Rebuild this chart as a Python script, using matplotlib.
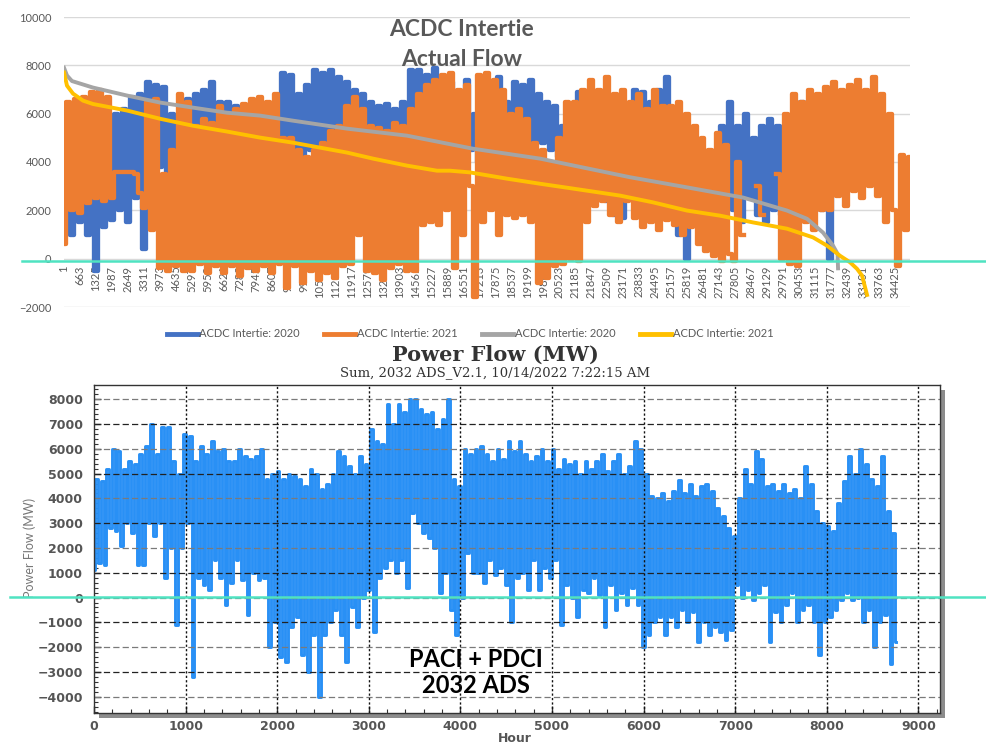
import numpy as np
import matplotlib
matplotlib.use("Agg")
import matplotlib.pyplot as plt
from matplotlib.lines import Line2D
from matplotlib.patches import Rectangle
from matplotlib.ticker import MultipleLocator

plt.rcParams['font.family'] = ['Lato', 'DejaVu Sans']

nan = np.nan

# ---- top chart: ACDC Intertie actual flow, 15-min samples (MW) ----
n_samples = 35040
cat_step = 662  # excel shows every 662nd category label

flow_2021 = [
    600, 6500, 2000, 6600, 1900, 6700, 2300, 6900,
    2500, 7000, 2400, 6700, 2500, 3600, 3600, 3600,
    3600, 3600, 3500, 2700, 2100, 6500, 1200, 6600,
    -400, 3500, -500, 4500, -300, 6800, -500, 6500,
    -500, 5500, -200, 5800, -600, 5600, -300, 6300,
    -600, 6000, -300, 6200, -700, 6400, -400, 6600,
    -500, 6700, -300, 6500, -600, 6800, -200, 5000,
    -1200, 5000, -300, 4500, -1000, 4200, -500, 4500,
    -900, 4800, -600, 5300, -800, 5500, -300, 6300,
    -200, 6700, 1000, 6200, -500, 5500, -600, 5400,
    -900, 5300, -400, 5600, -200, 5500, -500, 6200,
    -500, 6800, 1400, 7200, 1500, 7400, 1400, 7600,
    2000, 7700, -400, 7000, 1000, 7200, 3000, -1600,
    7600, 1500, 7700, 2000, 7400, 1000, 7000, 1800,
    6000, 1700, 6200, 1800, 5800, 1500, 4800, -1000,
    4500, -800, 4000, -300, 5000, -200, 6500, 0,
    6500, -100, 7000, 1500, 7400, 2200, 7000, 2400,
    7500, 1800, 6800, 1500, 7000, 2400, 6500, 1700,
    6800, 1300, 6200, 1500, 7000, 1200, 6300, 1600,
    6300, 1400, 6500, 1000, 6000, 1300, 5500, 600,
    5000, 300, 4500, 100, 5200, -100, 4700, 200,
    -100, 4000, 1000, nan, nan, nan, 3000, 1800,
    nan, nan, nan, 3500, 0, 6000, -200, 6800,
    -300, 6500, 1500, 7000, 1200, 6800, 2000, 7100,
    2000, 7300, 2600, 7000, 2200, 7200, 2800, 7400,
    2500, 7000, 3000, 7500, 2600, 6800, 1500, 6000,
    2000, -300, 4300, 1200, 4200,
]

flow_2020 = [
    1800, 5500, 1000, 6000, 1500, 5800, 1000, 4200,
    -500, 2800, 1300, 2500, 1600, 6000, 2000, 6200,
    1500, 6700, 2500, 6800, 400, 7300, 4000, 7200,
    3800, 7100, 3500, 6000, 3000, 5500, 4000, 6600,
    4500, 6800, 4300, 7000, 4600, 7300, 4800, 6500,
    5000, 6500, 5100, 6300, 5500, 1000, 5600, 6000,
    5500, 6000, 4800, 5900, 5000, 5800, 4500, 7700,
    5000, 7600, 3200, 6800, 3000, 7200, 4500, 7800,
    4600, 7700, 3800, 7800, 4500, 7500, 5000, 7300,
    5000, 7000, 4500, 6800, 3400, 6500, 4800, 6300,
    4800, 6400, 4500, 6200, 5000, 6500, 4500, 7800,
    5500, 7800, 5200, 7600, 5000, 7900, 5800, 7500,
    5500, 7300, 5000, 6500, 5200, 7400, 4500, 6000,
    4000, 6800, 3500, 7300, 4200, 7500, 3000, 6500,
    5500, 7300, 5400, 7200, 5000, 7400, 4800, 6800,
    4800, 6500, 4500, 6300, 4200, 5500, 4000, 6000,
    1300, 6900, 1800, 6500, 2400, 5500, 2800, 5000,
    2400, 5000, 1800, 5200, 1700, 6000, 3500, 7000,
    3800, 6900, 3500, 6500, 4000, 7000, 3500, 7500,
    2000, 4500, 1000, 4000, 0, 3500, 1500, 4000,
    1500, 4000, 500, 3800, 1000, 5500, 3000, 6500,
    2000, 5500, 1500, 6000, 2500, 5000, 1800, 5500,
    1500, 5800, 2000, 5500, 1800, 5000, 1200, 5800,
    3000, 6500, 3500, 6200, 2500, 6000, 2000, 5500,
    0, 3000,
]

# sorted (duration) curves
dur_2020_idx = [1, 124, 330, 1200, 2610, 3976, 5343, 6751, 8118, 9485, 11722,
                14207, 16941, 19716, 23444, 25805, 28124, 29947, 30775, 31438,
                31852, 32040, 32060]
dur_2020_mw = [7900, 7580, 7350, 7080, 6750, 6460, 6250, 6040, 5920, 5710, 5380,
               5090, 4550, 4140, 3370, 2950, 2530, 1990, 1650, 1080,
               540, 200, -400]

dur_2021_idx = [1, 124, 373, 787, 1201, 2609, 3976, 5343, 6751, 8118, 9485,
                11722, 12799, 14207, 15450, 15988, 16817, 18349, 19716, 21083,
                23029, 24396, 25805, 27172, 28538, 29947, 31024, 31604, 32142,
                32556, 32846, 33054, 33261]
dur_2021_mw = [7700, 7160, 6830, 6540, 6400, 6130, 5790, 5500, 5260, 5010, 4800,
               4390, 4140, 3850, 3640, 3640, 3570, 3310, 3100, 2900,
               2610, 2330, 1990, 1780, 1500, 1240, 880, 540, 120,
               -150, -420, -700, -1500]

legend_labels = ['ACDC Intertie: 2020', 'ACDC Intertie: 2021',
                 'ACDC Intertie: 2020', 'ACDC Intertie: 2021']

# ---- bottom chart: PACI + PDCI, 2032 ADS, 30 hour readings (MW) ----
hour_step = 30
pf_mw = [
    1100, 4800, 1400, 4700, 1300, 5200, 2800, 6000, 2700, 5900,
    2100, 5200, 3000, 5500, 2600, 5400, 1300, 5800, 1300, 6100,
    3000, 7000, 2500, 5800, 3000, 6900, 800, 6900, 2000, 5500,
    -1100, 5000, 2000, 6600, 3000, 6500, -3200, 5500, 800, 6100,
    500, 5800, 300, 6300, 1500, 5900, 800, 6000, -300, 5500,
    600, 5500, 1500, 6000, 700, 5700, -700, 5600, 1000, 5700,
    700, 6000, 800, 4800, -2000, 5000, -1000, 5100, -2400, 4800,
    -2600, 5000, -1200, 4900, -800, 4800, -2300, 4500, -3000, 5200,
    -1500, 5000, -4000, 4400, -1500, 4600, -1000, 5000, -500, 5900,
    -1500, 5700, -2600, 5300, -400, 5000, -1200, 5700, 0, 5400,
    300, 6800, -1400, 6300, 800, 6200, 1200, 7800, 1500, 7000,
    1000, 7800, 1500, 7500, 400, 8000, 3400, 8000, 3000, 7600,
    2600, 7400, 2400, 7500, 2000, 6800, 200, 7200, 1000, 8000,
    -500, 4800, -1500, 4500, 0, 6000, 1800, 5800, 1000, 6000,
    1000, 6100, 600, 5800, 1500, 5500, 900, 6000, 1200, 5600,
    500, 6300, -1000, 5900, 800, 6300, 1000, 5800, 300, 5500,
    1500, 5700, 300, 6000, 1200, 5500, 800, 6000, 1500, 5200,
    -1100, 5600, 500, 5400, 0, 5500, -800, 5000, 300, 5500,
    200, 5200, 800, 5500, 100, 5800, -1200, 5100, 500, 5500,
    -500, 5800, 200, 5000, -300, 5300, 400, 6300, -300, 6000,
    -2000, 5000, -1500, 4100, -1000, 4000, -800, 4200, -1500, 3900,
    -800, 4300, -1200, 4750, -500, 4200, -1000, 4600, -600, 4100,
    -1800, 4500, -1000, 4600, -1500, 4300, -1200, 3600, -1400, 3300,
    -1700, 2800, -1300, 2500, 500, 4000, 0, 5200, 300, 4600,
    -100, 5900, 200, 5600, 500, 4500, -1800, 4600, -600, 4300,
    -1000, 4600, -300, 4200, 200, 4400, -1000, 4000, -500, 5300,
    -300, 4600, -1000, 3500, -2300, 3000, -1000, 2900, -800, 2700,
    -500, 3800, -100, 4700, 200, 5700, -100, 5000, 0, 6000,
    -1000, 5400, -500, 4800, -2000, 4500, -1000, 5700, -700, 3500,
    -2700, 2600, -1800,
]

W, H = 987, 745


def box(l, t, r, b):
    # pixel box -> figure fraction
    return [l / W, 1 - b / H, (r - l) / W, (b - t) / H]


fig = plt.figure(figsize=(W / 100, H / 100), dpi=100)

# ================= top chart =================
ax1 = fig.add_axes(box(64, 17, 910, 307))
step = n_samples / (len(flow_2021) - 1)
x21 = 1 + step * np.arange(len(flow_2021))
x20 = 1 + step * np.arange(len(flow_2020))

# samples are too dense to resolve: draw them as vertical strokes
ax1.plot(x20, flow_2020, color='#4472c4', lw=3.1, drawstyle='steps-mid')
ax1.plot(x21, flow_2021, color='#ed7d31', lw=3.1, drawstyle='steps-mid')
ax1.plot(dur_2020_idx, dur_2020_mw, color='#a5a5a5', lw=2.8)
ax1.plot(dur_2021_idx, dur_2021_mw, color='#ffc000', lw=2.8)

ax1.set_xlim(0.5, n_samples + 0.5)
ax1.set_ylim(-2000, 10000)
ax1.set_yticks(range(-2000, 10001, 2000))
ax1.grid(axis='y', color='#d9d9d9', lw=1.0)
ax1.set_axisbelow(True)
for s in ['top', 'right', 'left']:
    ax1.spines[s].set_visible(False)
ax1.spines['bottom'].set_position(('data', 0))
ax1.spines['bottom'].set_visible(False)
cat_ticks = list(range(1, n_samples, cat_step))
ax1.set_xticks(cat_ticks)
ax1.set_xticklabels([str(t) for t in cat_ticks], rotation=90)
ax1.tick_params(axis='both', length=0, labelsize=8, labelcolor='#595959')
ax1.tick_params(axis='y', pad=9)
ax1.tick_params(axis='x', pad=5)

fig.text(462 / W, 1 - 29 / H, 'ACDC Intertie', ha='center', va='center',
         fontsize=16.5, weight='bold', color='#595959', zorder=20)
fig.text(462 / W, 1 - 60 / H, 'Actual Flow', ha='center', va='center',
         fontsize=16.5, weight='bold', color='#595959', zorder=20)

handles = [Line2D([], [], color=c, lw=3.5)
           for c in ['#4472c4', '#ed7d31', '#a5a5a5', '#ffc000']]
fig.legend(handles, legend_labels, loc='center', ncol=4,
           bbox_to_anchor=(470 / W, 1 - 334 / H), frameon=False,
           fontsize=8, labelcolor='#595959', handlelength=2.8,
           handletextpad=0.15, columnspacing=2.2)

# ================= bottom chart =================
shadow = Rectangle(((94 + 5) / W, 1 - (713 + 5) / H), 846 / W, 328 / H,
                   transform=fig.transFigure, facecolor='#8c8c8c',
                   edgecolor='none', zorder=-1)
fig.add_artist(shadow)

ax2 = fig.add_axes(box(94, 385, 940, 713))
ax2.set_facecolor('white')
hours = hour_step * np.arange(len(pf_mw))
ax2.plot(hours, pf_mw, color='#2990f5', lw=2.1, drawstyle='steps-mid',
         zorder=2)

ax2.set_xlim(0, 9236)
ax2.set_ylim(-4658, 8577)
ax2.xaxis.set_major_locator(MultipleLocator(1000))
ax2.xaxis.set_minor_locator(MultipleLocator(200))
ax2.yaxis.set_major_locator(MultipleLocator(1000))
ax2.yaxis.set_minor_locator(MultipleLocator(200))

for v in range(-4000, 8001, 1000):
    c = '#222222' if (v // 1000) % 2 else '#7a7a7a'
    ax2.axhline(v, color=c, lw=0.9, ls=(0, (5, 2.5)), zorder=3)
for h in range(1000, 9001, 1000):
    ax2.axvline(h, color='#111111', lw=1.0, ls=(0, (1.6, 1.6)), zorder=3)

for s in ax2.spines.values():
    s.set_color('#333333')
    s.set_linewidth(1.0)
    s.set_zorder(4)
ax2.tick_params(which='both', direction='in', top=False, right=False,
                color='#333333')
ax2.tick_params(which='major', length=5, width=1.0)
ax2.tick_params(which='minor', length=3, width=0.8)
ax2.tick_params(axis='y', which='major', pad=8)
ax2.tick_params(axis='x', which='major', pad=5)
for lab in ax2.get_xticklabels() + ax2.get_yticklabels():
    lab.set_family('DejaVu Sans')
    lab.set_weight('bold')
    lab.set_color('#555555')
    lab.set_fontsize(9)

ax2.text(4171, -2500, 'PACI + PDCI', ha='center', va='center', fontsize=17,
         weight='bold', color='black', zorder=2.5)
ax2.text(4171, -3550, '2032 ADS', ha='center', va='center', fontsize=17,
         weight='bold', color='black', zorder=2.5)

fig.text(495 / W, 1 - 355 / H, 'Power Flow (MW)', ha='center', va='center',
         family='DejaVu Serif', weight='bold', fontsize=15, color='#333333')
fig.text(495 / W, 1 - 373 / H, 'Sum, 2032 ADS_V2.1, 10/14/2022 7:22:15 AM',
         ha='center', va='center', family='DejaVu Serif', fontsize=9.5,
         color='#333333')
fig.text(30 / W, 1 - 548 / H, 'Power Flow (MW)', rotation=90, ha='center',
         va='center', fontsize=9, color='#777777')
fig.text(515 / W, 1 - 739 / H, 'Hour', ha='center', va='center',
         family='DejaVu Sans', weight='bold', fontsize=9, color='#555555')

# highlight lines at zero flow across the whole picture
fig.add_artist(Line2D([22 / W, 1], [1 - 261 / H] * 2, color='#4fe3c1',
                      lw=1.8, zorder=30, transform=fig.transFigure))
fig.add_artist(Line2D([10 / W, 1], [1 - 597 / H] * 2, color='#4fe3c1',
                      lw=1.8, zorder=30, transform=fig.transFigure))

fig.savefig('out.png', dpi=100)
